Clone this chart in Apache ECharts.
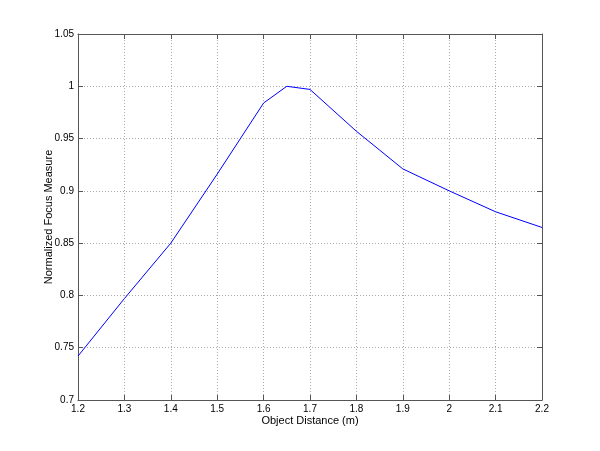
<!DOCTYPE html>
<html>
<head>
<meta charset="utf-8">
<script src="https://cdn.jsdelivr.net/npm/echarts@6/dist/echarts.min.js"></script>
<style>
html,body{margin:0;padding:0;background:#fff;}
#chart{width:600px;height:451px;}
</style>
</head>
<body>
<div id="chart"></div>
<script>
var xValues = [1.2, 1.3, 1.4, 1.5, 1.6, 1.65, 1.7, 1.8, 1.9, 2.0, 2.1, 2.2];
var focusMeasure = [0.742, 0.797, 0.850, 0.916, 0.984, 1.000, 0.997, 0.957, 0.921, 0.900, 0.880, 0.865];
var xTitle = 'Object Distance (m)';
var yTitle = 'Normalized Focus Measure';

var chart = echarts.init(document.getElementById('chart'), null, {renderer: 'canvas'});
var font = 'Liberation Sans, Arial, Helvetica, sans-serif';
var axisColor = '#555';
var gridLine = {show: true, lineStyle: {color: '#aaa', type: [1, 2], width: 1}};
var data = xValues.map(function (x, i) { return [x, focusMeasure[i]]; });

chart.setOption({
  animation: false,
  backgroundColor: '#fff',
  grid: {left: 78, right: 58, top: 34, bottom: 51, containLabel: false},
  xAxis: [{
    type: 'value', min: 1.2, max: 2.2, interval: 0.1, position: 'bottom',
    name: xTitle, nameLocation: 'middle', nameGap: 15, nameMoveOverlap: false,
    nameTextStyle: {fontFamily: font, fontSize: 11, color: '#000'},
    axisLine: {show: true, lineStyle: {color: axisColor, width: 1}},
    axisTick: {show: true, inside: true, length: 5, lineStyle: {color: axisColor}},
    axisLabel: {fontFamily: font, fontSize: 10, color: '#000', margin: 4,
      formatter: function (v) { return String(Math.round(v * 10) / 10); }},
    splitLine: gridLine
  }, {
    type: 'value', min: 1.2, max: 2.2, interval: 0.1, position: 'top',
    axisLine: {show: true, lineStyle: {color: axisColor, width: 1}},
    axisTick: {show: true, inside: true, length: 5, lineStyle: {color: axisColor}},
    axisLabel: {show: false}, splitLine: {show: false}
  }],
  yAxis: [{
    type: 'value', min: 0.7, max: 1.05, interval: 0.05, position: 'left',
    name: yTitle, nameLocation: 'middle', nameGap: 24, nameRotate: 90,
    nameMoveOverlap: false,
    nameTextStyle: {fontFamily: font, fontSize: 11, color: '#000'},
    axisLine: {show: true, lineStyle: {color: axisColor, width: 1}},
    axisTick: {show: true, inside: true, length: 5, lineStyle: {color: axisColor}},
    axisLabel: {fontFamily: font, fontSize: 10, color: '#000', margin: 4,
      formatter: function (v) { return String(Math.round(v * 100) / 100); }},
    splitLine: gridLine
  }, {
    type: 'value', min: 0.7, max: 1.05, interval: 0.05, position: 'right',
    axisLine: {show: true, lineStyle: {color: axisColor, width: 1}},
    axisTick: {show: true, inside: true, length: 5, lineStyle: {color: axisColor}},
    axisLabel: {show: false}, splitLine: {show: false}
  }],
  series: [{
    type: 'line', data: data, xAxisIndex: 0, yAxisIndex: 0,
    showSymbol: false, symbol: 'none',
    lineStyle: {color: '#0000ff', width: 1}
  }]
});
</script>
</body>
</html>
